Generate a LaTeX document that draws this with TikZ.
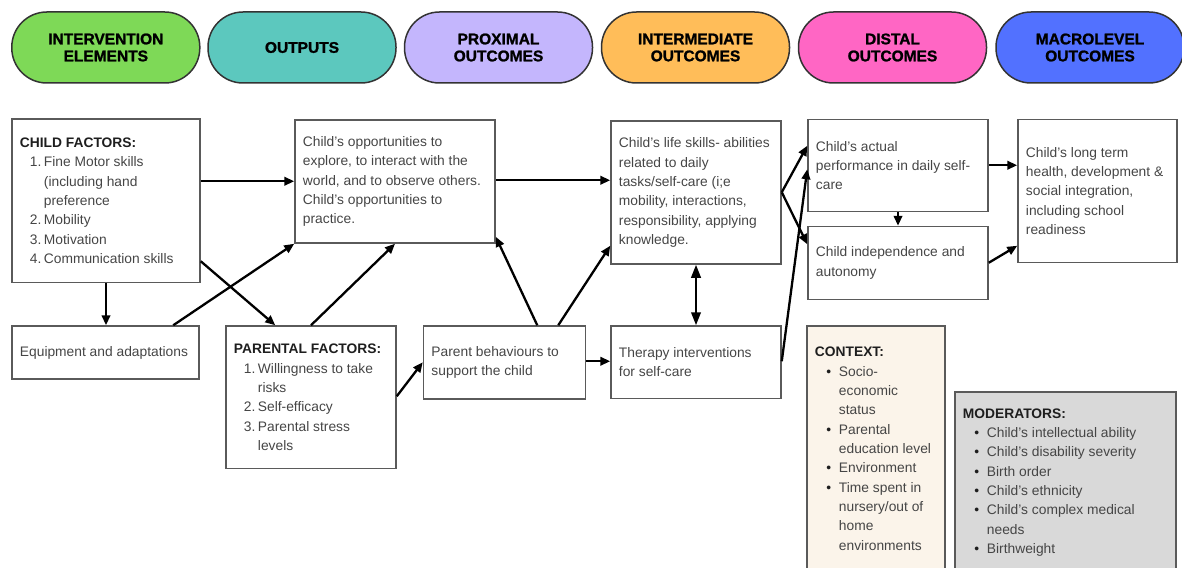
\documentclass[tikz,border=0pt]{standalone}
\usepackage{fontspec}
\setmainfont{Liberation Sans}
\newfontfamily\pillfont{Liberation Sans}[BoldFeatures={FakeBold=1.3}]
\usepackage{graphicx}
\usetikzlibrary{arrows.meta,calc}

\definecolor{pillgreen}{HTML}{7ED957}
\definecolor{pillteal}{HTML}{5CC8BE}
\definecolor{pilllav}{HTML}{C4B6FD}
\definecolor{pillorange}{HTML}{FFBD59}
\definecolor{pillpink}{HTML}{FF66C4}
\definecolor{pillblue}{HTML}{5271FF}
\definecolor{ctxfill}{HTML}{FBF4EA}
\definecolor{modfill}{HTML}{D9D9D9}
\definecolor{txtgray}{HTML}{454545}
\definecolor{headtxt}{HTML}{1E1E1E}
\definecolor{boxline}{HTML}{5A5A5A}

% list helpers
\newcommand\numit[1]{\hspace*{10pt}\makebox[14pt][l]{#1}}
\newcommand\contit{\hspace*{24pt}}
\newcommand\bulit{\hspace*{11.5pt}\makebox[12.5pt][l]{\color{headtxt}•}}
\newcommand\hd[1]{{\bfseries\color{headtxt}#1}}

\tikzset{
  pill/.style={draw=black!80, line width=1.5pt, rounded corners=35pt,
    minimum width=188pt, minimum height=71pt, inner sep=0pt, align=center,
    font=\pillfont\bfseries\fontsize{15.5}{17}\selectfont, text=black},
  box/.style={draw=boxline, line width=1.5pt, inner sep=0pt},
  txt/.style={align=left, inner sep=0pt, anchor=west, text=txtgray,
    font=\fontsize{13.8}{19.33}\selectfont},
  tip/.tip={Triangle[length=10pt,width=8.5pt]},
  arr/.style={line width=2.3pt, -tip},
  darr/.style={line width=2.3pt, {Triangle[length=13pt,width=9.5pt]}-{Triangle[length=13pt,width=9.5pt]}}
}

\begin{document}
\begin{tikzpicture}[x=1pt,y=-1pt]
\useasboundingbox (0,0) rectangle (1182,567);

% column headers
\node[pill, fill=pillgreen]  (h1) at (105.8,47.5) {INTERVENTION\\ELEMENTS};
\node[pill, fill=pillteal]   (h2) at (302,47.5)   {OUTPUTS};
\node[pill, fill=pilllav]    (h3) at (498.5,47.5) {PROXIMAL\\OUTCOMES};
\node[pill, fill=pillorange] (h4) at (695.5,47.5) {INTERMEDIATE\\OUTCOMES};
\node[pill, fill=pillpink]   (h5) at (892.5,47.5) {DISTAL\\OUTCOMES};
\node[pill, fill=pillblue]   (h6) at (1090,47.5)  {MACROLEVEL\\OUTCOMES};

% boxes
\node[box, minimum width=188pt, minimum height=163.5pt] (cf)  at (106,200.75) {};
\node[box, minimum width=200pt, minimum height=123pt]   (opp) at (395,181.5) {};
\node[box, minimum width=170pt, minimum height=143pt]   (ls)  at (696,192.5) {};
\node[box, minimum width=180pt, minimum height=92pt]    (ap)  at (898,165.5) {};
\node[box, minimum width=180pt, minimum height=73pt]    (ind) at (898,263) {};
\node[box, minimum width=159pt, minimum height=143pt]   (lt)  at (1097.5,191) {};
\node[box, minimum width=187pt, minimum height=53pt]    (eq)  at (105.5,352.5) {};
\node[box, minimum width=170pt, minimum height=142.5pt] (pf)  at (311,397.25) {};
\node[box, minimum width=162pt, minimum height=73pt]    (pb)  at (504.5,362.5) {};
\node[box, minimum width=170pt, minimum height=72.5pt]  (th)  at (696,362.25) {};
\node[box, fill=ctxfill, minimum width=138pt, minimum height=254pt] (ctx) at (876,453) {};
\node[box, fill=modfill, minimum width=221pt, minimum height=188pt] (mod) at (1065.5,486) {};

% box texts
\node[txt] (cft) at ($(cf.west)+(8.5,0)$) {\hd{CHILD FACTORS:}\\
  \numit{1.}Fine Motor skills\\
  \contit(including hand\\
  \contit preference\\
  \numit{2.}Mobility\\
  \numit{3.}Motivation\\
  \numit{4.}Communication skills};
\node[txt] (oppt) at ($(opp.west)+(8.5,0)$) {Child's opportunities to\\
  explore, to interact with the\\world, and to observe others.\\
  Child's opportunities to\\practice.};
\node[txt] (lst) at ($(ls.west)+(8.5,0)$) {Child's life skills- abilities\\
  related to daily\\tasks/self-care (i;e\\mobility, interactions,\\
  responsibility, applying\\knowledge.};
\node[txt] (apt) at ($(ap.west)+(8.5,0)$) {Child's actual\\performance in daily self-\\care};
\node[txt] (indt) at ($(ind.west)+(8.5,0)$) {Child independence and\\autonomy};
\node[txt] (ltt) at ($(lt.west)+(8.5,0)$) {Child's long term\\health, development \&\\
  social integration,\\including school\\readiness};
\node[txt] (eqt) at ($(eq.west)+(8.5,0)$) {Equipment and adaptations};
\node[txt] (pft) at ($(pf.west)+(8.5,0)$) {\hd{PARENTAL FACTORS:}\\
  \numit{1.}Willingness to take\\
  \contit risks\\
  \numit{2.}Self-efficacy\\
  \numit{3.}Parental stress\\
  \contit levels};
\node[txt] (pbt) at ($(pb.west)+(8.5,0)$) {Parent behaviours to\\support the child};
\node[txt] (tht) at ($(th.west)+(8.5,0)$) {Therapy interventions\\for self-care};
\node[txt, anchor=north west] (ctxt) at ($(ctx.north west)+(8.5,21.8)$) {\hd{CONTEXT:}\\
  \bulit Socio-\\\contit economic\\\contit status\\
  \bulit Parental\\\contit education level\\
  \bulit Environment\\
  \bulit Time spent in\\\contit nursery/out of\\\contit home\\\contit environments};
\node[txt, anchor=north west] (modt) at ($(mod.north west)+(8.5,17)$) {\hd{MODERATORS:}\\
  \bulit Child's intellectual ability\\
  \bulit Child's disability severity\\
  \bulit Birth order\\
  \bulit Child's ethnicity\\
  \bulit Child's complex medical\\\contit needs\\
  \bulit Birthweight};

% connectors
\draw[arr] ($(cf.north east)+(0,63)$) -- ($(opp.north west)+(0,62)$);
\draw[arr] ($(eq.north west)+(162,0)$) -- (opp.south west);
\draw[arr] ($(cf.north east)+(0,143)$) -- ($(pf.north west)+(50,0)$);
\draw[arr] (cf.south) -- (cf.south |- eq.north);
\draw[arr] (pf.north) -- (opp.south);
\draw[arr] ($(pb.north west)+(114.5,0)$) -- ($(opp.south east)+(0,-7)$);
\draw[arr] ($(pb.north west)+(135.5,0)$) -- ($(ls.south west)+(0,-19)$);
\draw[arr] ($(pf.north east)+(0,71)$) -- ($(pb.north west)+(0,37)$);
\draw[arr] ($(opp.north east)+(0,61)$) -- ($(ls.north west)+(0,60)$);
\draw[arr] ($(pb.north east)+(0,36)$) -- ($(th.north west)+(0,36)$);
\draw[darr] (ls.south) -- (th.north);
\draw[arr] ($(ls.north east)+(0,72)$) -- ($(ap.north west)+(0,27)$);
\draw[arr] ($(ls.north east)+(0,72)$) -- ($(ind.north west)+(0,18.5)$);
\draw[arr] ($(th.north east)+(0,36)$) -- ($(ap.north west)+(0,50.5)$);
\draw[arr] (ap.south) -- (ind.north);
\draw[arr] ($(ap.north east)+(0,46.5)$) -- ($(lt.north west)+(0,46.5)$);
\draw[arr] ($(ind.north east)+(0,37)$) -- ($(lt.north west)+(0,127)$);
\end{tikzpicture}
\end{document}
